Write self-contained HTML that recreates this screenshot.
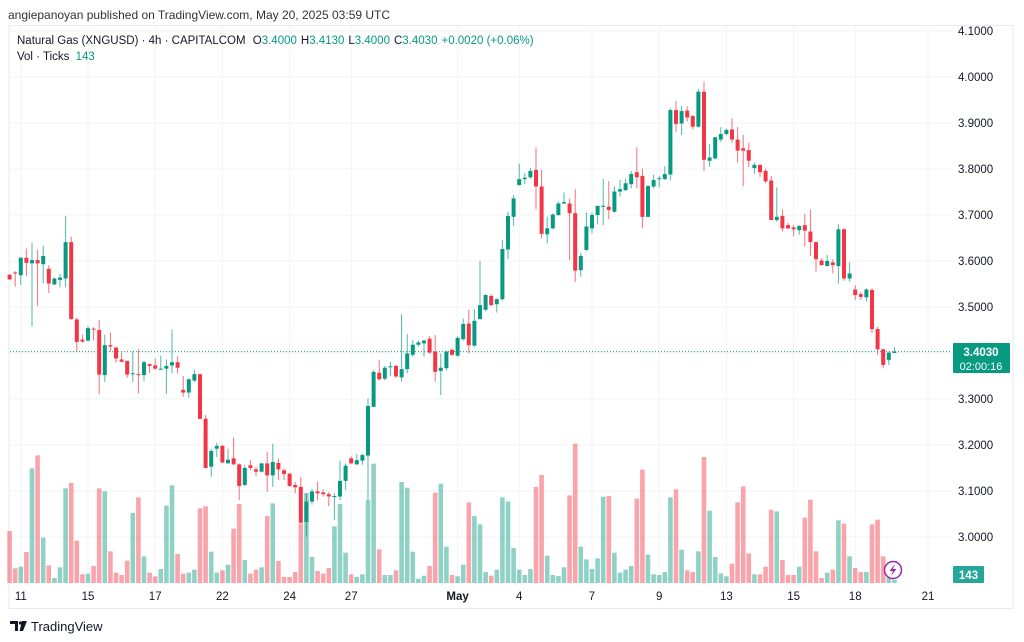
<!DOCTYPE html>
<html><head><meta charset="utf-8"><style>
html,body{margin:0;padding:0;background:#fff;width:1024px;height:642px;overflow:hidden}
svg{display:block;font-family:"Liberation Sans",sans-serif}
</style></head><body>
<svg id="c" width="1024" height="642" viewBox="0 0 1024 642">
<text x="8" y="19" font-size="12" fill="#333">angiepanoyan published on TradingView.com, May 20, 2025 03:59 UTC</text>
<rect x="9" y="25.5" width="1004" height="583" fill="none" stroke="#e8eaef"/>
<g id="grid"></g>
<g id="vol"></g>
<line x1="10" x2="952" y1="352" y2="352" id="lastline" stroke="#089981" stroke-width="1" stroke-dasharray="1,2"/>
<g id="candles"></g>
<g id="yaxis"></g>
<g id="xaxis"></g>
<text x="17" y="44" font-size="11.5" fill="#131722">Natural Gas (XNGUSD) · 4h · CAPITALCOM <tspan dx="4">O</tspan><tspan fill="#089981">3.4000</tspan><tspan dx="4">H</tspan><tspan fill="#089981">3.4130</tspan><tspan dx="4">L</tspan><tspan fill="#089981">3.4000</tspan><tspan dx="4">C</tspan><tspan fill="#089981">3.4030</tspan><tspan dx="4" fill="#089981">+0.0020 (+0.06%)</tspan></text>
<text x="17" y="60" font-size="11.5" fill="#131722">Vol · Ticks <tspan dx="3" fill="#089981">143</tspan></text>
<g>
<rect x="953" y="343" width="57" height="30" rx="1" fill="#089981"/>
<text x="981" y="356" font-size="11.5" fill="#fff" text-anchor="middle" font-weight="bold">3.4030</text>
<text x="981" y="370" font-size="11" fill="#fff" text-anchor="middle">02:00:16</text>
</g>
<g>
<rect x="953" y="566" width="31" height="17" rx="1" fill="#26a69a"/>
<text x="968.5" y="579" font-size="11.5" fill="#fff" text-anchor="middle" font-weight="bold">143</text>
</g>
<g>
<circle cx="893" cy="570" r="8.5" fill="#fff" stroke="#9c27b0" stroke-width="1.5"/>
<path d="M895 564 L889.5 571 L893 571 L891 576 L896.5 569 L893 569 Z" fill="#9c27b0"/>
</g>
<g>
<path d="M10 621 h8 v10 h-3 v-7 h-5 z" fill="#131722"/>
<circle cx="20.5" cy="623" r="1.6" fill="#131722"/>
<path d="M22 621 h5 l-4 10 h-3.5 z" fill="#131722"/>
<text x="31" y="631" font-size="13" fill="#131722">TradingView</text>
</g>
</svg>
<script>
const opens=[3.570,3.575,3.569,3.607,3.595,3.602,3.593,3.583,3.549,3.559,
3.562,3.641,3.473,3.429,3.427,3.453,3.450,3.352,3.417,3.412,
3.386,3.383,3.355,3.354,3.352,3.376,3.373,3.364,3.366,3.373,
3.380,3.320,3.314,3.340,3.354,3.257,3.153,3.192,3.198,3.160,
3.171,3.158,3.113,3.156,3.147,3.142,3.160,3.134,3.161,3.145,
3.138,3.113,3.109,3.033,3.077,3.099,3.097,3.093,3.088,3.088,
3.122,3.171,3.158,3.166,3.177,3.283,3.357,3.344,3.370,3.372,
3.347,3.365,3.396,3.418,3.421,3.431,3.403,3.361,3.367,3.407,
3.394,3.430,3.464,3.416,3.474,3.494,3.524,3.506,3.517,3.625,
3.696,3.765,3.778,3.782,3.798,3.762,3.658,3.671,3.700,3.725,
3.725,3.704,3.580,3.624,3.671,3.700,3.719,3.718,3.707,3.751,
3.754,3.767,3.793,3.785,3.696,3.762,3.778,3.778,3.788,3.928,
3.899,3.927,3.915,3.892,3.968,3.818,3.823,3.864,3.876,3.886,
3.864,3.845,3.841,3.802,3.809,3.796,3.775,3.689,3.698,3.678,
3.673,3.667,3.678,3.664,3.641,3.601,3.589,3.597,3.589,3.669,
3.562,3.538,3.528,3.521,3.537,3.452,3.408,3.385,3.400];
const highs=[3.572,3.578,3.609,3.627,3.640,3.624,3.633,3.591,3.564,3.572,
3.698,3.653,3.477,3.440,3.459,3.456,3.472,3.440,3.445,3.412,
3.401,3.383,3.404,3.409,3.383,3.377,3.388,3.394,3.386,3.451,
3.393,3.350,3.345,3.364,3.354,3.265,3.192,3.205,3.200,3.192,
3.216,3.160,3.156,3.167,3.153,3.161,3.185,3.203,3.171,3.149,
3.138,3.120,3.131,3.095,3.104,3.120,3.104,3.098,3.095,3.166,
3.160,3.175,3.180,3.181,3.301,3.363,3.385,3.372,3.381,3.374,
3.484,3.441,3.428,3.427,3.429,3.437,3.439,3.399,3.405,3.410,
3.436,3.475,3.494,3.495,3.600,3.528,3.528,3.519,3.646,3.707,
3.743,3.812,3.791,3.803,3.847,3.798,3.696,3.704,3.729,3.749,
3.736,3.756,3.618,3.706,3.705,3.711,3.778,3.774,3.762,3.776,
3.779,3.796,3.847,3.801,3.765,3.787,3.785,3.806,3.932,3.948,
3.937,3.936,3.917,3.974,3.990,3.854,3.870,3.891,3.888,3.910,
3.891,3.874,3.857,3.814,3.810,3.801,3.785,3.760,3.712,3.683,
3.678,3.678,3.702,3.712,3.642,3.606,3.613,3.604,3.680,3.671,
3.597,3.548,3.533,3.541,3.541,3.457,3.410,3.403,3.413];
const lows=[3.559,3.544,3.548,3.567,3.457,3.502,3.551,3.530,3.548,3.543,
3.543,3.472,3.403,3.422,3.425,3.427,3.311,3.337,3.403,3.379,
3.379,3.346,3.337,3.312,3.339,3.356,3.363,3.363,3.311,3.356,
3.355,3.305,3.303,3.337,3.256,3.149,3.131,3.174,3.160,3.160,
3.156,3.080,3.111,3.145,3.132,3.140,3.098,3.109,3.124,3.124,
3.109,3.095,3.030,3.001,3.070,3.080,3.088,3.067,3.037,3.080,
3.102,3.159,3.156,3.157,3.078,3.282,3.340,3.341,3.350,3.346,
3.338,3.356,3.392,3.414,3.392,3.398,3.338,3.309,3.362,3.394,
3.392,3.427,3.399,3.414,3.472,3.491,3.502,3.488,3.514,3.604,
3.676,3.764,3.767,3.779,3.712,3.649,3.638,3.669,3.698,3.724,
3.602,3.554,3.566,3.622,3.660,3.680,3.678,3.691,3.705,3.740,
3.752,3.758,3.758,3.671,3.696,3.758,3.760,3.776,3.776,3.881,
3.874,3.903,3.886,3.890,3.796,3.805,3.821,3.859,3.874,3.857,
3.814,3.763,3.804,3.789,3.783,3.770,3.689,3.685,3.664,3.669,
3.654,3.657,3.631,3.611,3.577,3.590,3.588,3.573,3.551,3.557,
3.555,3.515,3.515,3.512,3.443,3.396,3.367,3.374,3.400];
const closes=[3.560,3.573,3.607,3.596,3.602,3.595,3.611,3.551,3.562,3.564,
3.641,3.474,3.424,3.425,3.454,3.451,3.353,3.417,3.414,3.388,
3.381,3.353,3.356,3.352,3.380,3.372,3.366,3.366,3.372,3.380,
3.368,3.314,3.343,3.354,3.257,3.150,3.187,3.198,3.162,3.168,
3.158,3.111,3.150,3.150,3.142,3.160,3.134,3.163,3.147,3.137,
3.111,3.108,3.031,3.077,3.099,3.095,3.093,3.088,3.089,3.122,
3.155,3.160,3.167,3.178,3.285,3.359,3.343,3.368,3.371,3.349,
3.365,3.399,3.418,3.423,3.427,3.401,3.359,3.368,3.403,3.396,
3.433,3.463,3.417,3.470,3.504,3.526,3.504,3.517,3.626,3.698,
3.736,3.778,3.781,3.796,3.762,3.659,3.671,3.701,3.725,3.728,
3.704,3.579,3.611,3.675,3.700,3.720,3.720,3.711,3.751,3.756,
3.769,3.789,3.782,3.696,3.763,3.776,3.780,3.789,3.928,3.898,
3.926,3.912,3.892,3.968,3.820,3.825,3.869,3.876,3.885,3.864,
3.840,3.840,3.818,3.809,3.793,3.773,3.689,3.696,3.671,3.671,
3.669,3.676,3.666,3.641,3.604,3.591,3.600,3.591,3.669,3.562,
3.573,3.526,3.522,3.538,3.452,3.408,3.374,3.401,3.403];
const volumes=[2184,616,686,1302,4816,5362,1904,742,210,658,
3976,4200,1778,364,392,714,3976,3850,1330,434,
336,938,2940,3598,1120,434,280,588,3248,4102,
1218,392,434,560,3136,3220,1316,434,532,770,
2282,3318,966,392,560,658,2814,3346,924,252,
252,462,2492,3780,1092,504,392,630,2380,3318,
1274,364,252,364,3472,5012,1414,336,336,532,
4242,4004,1316,182,308,714,3794,4172,1526,336,
280,770,3388,2814,2464,462,308,560,3598,3430,
1470,560,336,588,4032,4536,1148,336,294,658,
3682,5852,1526,994,588,1036,3626,3654,1274,434,
560,714,3542,4760,1190,364,336,462,3598,3934,
1400,532,462,1330,5292,3038,1092,406,280,812,
3388,4060,1246,364,364,686,3080,3010,966,336,
336,686,2744,3500,1330,210,434,560,2632,2492,
1120,630,462,462,2464,2660,1120,252,143];
const priceTicks=[3.0,3.1,3.2,3.3,3.4,3.5,3.6,3.7,3.8,3.9,4.0,4.1];
const timeLabels=["11","15","17","22","24","27","May","4","7","9","13","15","18","21"];
const timeLabelIdx=[2,14,26,38,50,61,80,91,104,116,128,140,151,164];
const lastPrice=3.403;

const NS="http://www.w3.org/2000/svg";
const UP="#089981",DN="#f23645",UPV="rgba(8,153,129,0.45)",DNV="rgba(242,54,69,0.45)";
function xS(i){return 9.6+i*5.6;}
function yS(p){return 77+(4-p)*460;}
const VBASE=583;
function vS(v){return v/42;}
function mk(tag,attrs,parent){const e=document.createElementNS(NS,tag);for(const k in attrs)e.setAttribute(k,attrs[k]);parent.appendChild(e);return e;}
const grid=document.getElementById('grid'),yax=document.getElementById('yaxis'),xax=document.getElementById('xaxis');
const vol=document.getElementById('vol'),cg=document.getElementById('candles');
priceTicks.forEach(p=>{
  const y=yS(p);
  const l=mk('line',{x1:10,x2:952,y1:y,y2:y,stroke:'#f2f3f6','stroke-width':1},grid);
  
  
  const t=mk('text',{x:958,y:y+4,'font-size':11.5,fill:'#131722'},yax);
  t.textContent=p.toFixed(4);
  
  
});
timeLabels.forEach((s,k)=>{
  const x=xS(timeLabelIdx[k]);
  const l=mk('line',{x1:x,x2:x,y1:26,y2:583,stroke:'#f2f3f6','stroke-width':1},grid);
  
  
  const t=mk('text',{x:x,y:600,'font-size':11.5,fill:'#131722','text-anchor':'middle','font-weight':s==='May'?'bold':'normal'},xax);
  t.textContent=s;
  
  
});
for(let i=0;i<opens.length;i++){
  const up=closes[i]>=opens[i];const x=xS(i);
  const h=vS(volumes[i]);
  const vb=mk('rect',{x:x-2.3,y:VBASE-h,width:4.6,height:h,fill:up?UPV:DNV},vol);
  
  
  const g=mk('g',{},cg);
  
  
  mk('line',{x1:x,x2:x,y1:yS(highs[i]),y2:yS(lows[i]),stroke:up?UP:DN,'stroke-width':1,opacity:0.7},g);
  const top=yS(Math.max(opens[i],closes[i])),bot=yS(Math.min(opens[i],closes[i]));
  mk('rect',{x:x-2,y:top,width:4,height:Math.max(1,bot-top),fill:up?UP:DN},g);
}
document.getElementById('lastline').setAttribute('y1',yS(lastPrice));
document.getElementById('lastline').setAttribute('y2',yS(lastPrice));
</script>
</body></html>
